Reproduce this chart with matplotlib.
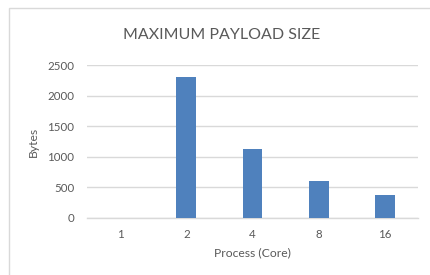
import matplotlib
matplotlib.use("Agg")
import matplotlib.pyplot as plt
from matplotlib.patches import Rectangle

categories = ["1", "2", "4", "8", "16"]
values = [0, 2300, 1120, 600, 370]
yticks = [0, 500, 1000, 1500, 2000, 2500]

plt.rcParams['font.family'] = ['Lato', 'DejaVu Sans']
W, H = 430, 275
fig = plt.figure(figsize=(W/100, H/100), dpi=100)
fig.patch.set_facecolor('white')

# chart border
fig.add_artist(Rectangle((9/W, -0.05), 1.0, 1 - 8/H + 0.05, transform=fig.transFigure,
                         fill=False, edgecolor='#d9d9d9', linewidth=1.0))

ax = fig.add_axes([87/W, 1 - 218/H, (418-87)/W, (218-65)/H])
x = list(range(len(categories)))
ax.bar(x, values, width=0.3, color='#4f81bd', zorder=3)
ax.set_xlim(-0.5, 4.5)
ax.set_ylim(0, 2500)
ax.set_yticks(yticks)
ax.set_xticks(x)
ax.set_xticklabels(categories)
ax.yaxis.grid(True, color='#d9d9d9', linewidth=1.0, zorder=0)
ax.set_axisbelow(True)
for s in ['top', 'right', 'left']:
    ax.spines[s].set_visible(False)
ax.spines['bottom'].set_color('#d9d9d9')
ax.spines['bottom'].set_linewidth(1.0)
ax.tick_params(axis='both', length=0, colors='#595959', labelsize=8.3)
ax.tick_params(axis='y', pad=9)
ax.tick_params(axis='x', pad=8)
ax.set_ylabel('Bytes', color='#595959', fontsize=8.7, labelpad=6)
ax.set_xlabel('Process (Core)', color='#595959', fontsize=8.7, labelpad=5)
fig.text(222/W, 1 - 35/H, 'MAXIMUM PAYLOAD SIZE', ha='center', va='center',
         color='#595959', fontsize=11.5)

fig.savefig('out.png', dpi=100)
